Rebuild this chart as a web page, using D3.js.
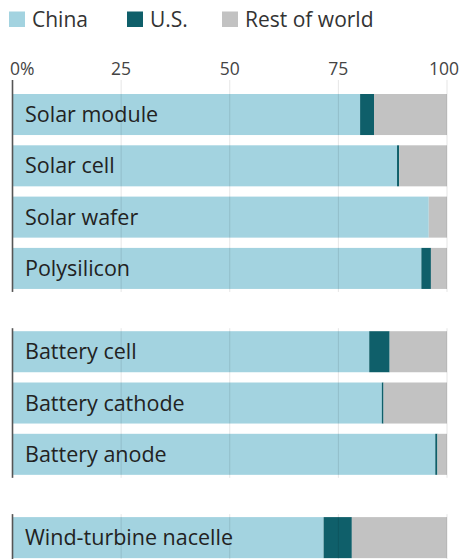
<!DOCTYPE html>
<html>
<head>
<meta charset="utf-8">
<script src="https://cdn.jsdelivr.net/npm/d3@7"></script>
<style>
  body { margin: 0; background: #fff; }
  svg { display: block; font-family: "Open Sans", "Noto Sans", sans-serif; }
</style>
</head>
<body>
<svg id="chart" width="462" height="559"></svg>
<script>
// categories, grouped
const categories = ['Solar module', 'Solar cell', 'Solar wafer', 'Polysilicon',
                    'Battery cell', 'Battery cathode', 'Battery anode',
                    'Wind-turbine nacelle']
const groups = [0, 0, 0, 0, 1, 1, 1, 2]

// share of global capacity, %
const china = [80, 88.5, 95.8, 94.1, 82.1, 85, 97.3, 71.6]
const us = [3.2, 0.5, 0, 2.2, 4.7, 0.4, 0.5, 6.5]

const seriesNames = ['China', 'U.S.', 'Rest of world']
const colors = ['#a3d3e0', '#0f5f6a', '#c2c2c2']
const ticks = [0, 25, 50, 75, 100]

const svg = d3.select('#chart')

const x = d3.scaleLinear().domain([0, 100]).range([12.5, 447])

const groupGap = 32
const yb = d3.scaleBand()
    .domain(categories)
    .range([94, 94 + 51.3 * 7.8])
    .paddingInner(0.2)
    .paddingOuter(0)
const y = (c, i) => yb(c) + groups[i] * groupGap

// stacked data
const rows = categories.map((c, i) => ({
    name: c, idx: i,
    china: china[i], us: us[i], rest: 100 - china[i] - us[i]
}))
const stack = d3.stack().keys(['china', 'us', 'rest'])
const layers = stack(rows)

// legend
const legendX = [9, 127, 222]
const legend = svg.append('g')
seriesNames.forEach((s, i) => {
    legend.append('rect')
        .attr('x', legendX[i]).attr('y', 11.5)
        .attr('width', 16).attr('height', 15.5)
        .attr('fill', colors[i])
    legend.append('text')
        .attr('x', legendX[i] + 23).attr('y', 26.5)
        .attr('font-size', 21)
        .attr('fill', '#333')
        .text(s)
})

// tick labels
svg.append('g').selectAll('text')
    .data(ticks)
    .join('text')
    .attr('x', d => d === 0 ? 10 : x(d) - (d === 100 ? 3 : 0))
    .attr('y', 75)
    .attr('text-anchor', d => d === 0 ? 'start' : 'middle')
    .attr('font-size', 17.5)
    .attr('fill', '#444')
    .text(d => d === 0 ? '0%' : d)

// bars
svg.append('g').selectAll('g')
    .data(layers)
    .join('g')
    .attr('fill', (d, i) => colors[i])
    .selectAll('rect')
    .data(d => d)
    .join('rect')
    .attr('x', d => x(d[0]))
    .attr('width', d => Math.max(0, x(d[1]) - x(d[0])))
    .attr('y', d => y(d.data.name, d.data.idx))
    .attr('height', yb.bandwidth())

// gridlines and zero line per group
const groupSpans = d3.groups(rows, d => groups[d.idx]).map(([g, rs]) => {
    const first = rs[0], last = rs[rs.length - 1]
    return {
        top: y(first.name, first.idx) - (g === 0 ? 14 : 3),
        bottom: y(last.name, last.idx) + yb.bandwidth() + 3
    }
})

groupSpans.forEach(s => {
    svg.append('g').selectAll('line')
        .data(ticks.slice(1))
        .join('line')
        .attr('x1', d => x(d)).attr('x2', d => x(d))
        .attr('y1', s.top).attr('y2', s.bottom)
        .attr('stroke', 'rgba(0,0,0,0.1)')
        .attr('stroke-width', 1)
    svg.append('line')
        .attr('x1', x(0)).attr('x2', x(0))
        .attr('y1', s.top).attr('y2', s.bottom)
        .attr('stroke', '#555')
        .attr('stroke-width', 1.6)
})

// bar labels
svg.append('g').selectAll('text')
    .data(rows)
    .join('text')
    .attr('x', 25)
    .attr('y', d => y(d.name, d.idx) + yb.bandwidth() / 2 + 7.5)
    .attr('font-size', 21.5)
    .attr('fill', '#222')
    .text(d => d.name)
</script>
</body>
</html>
